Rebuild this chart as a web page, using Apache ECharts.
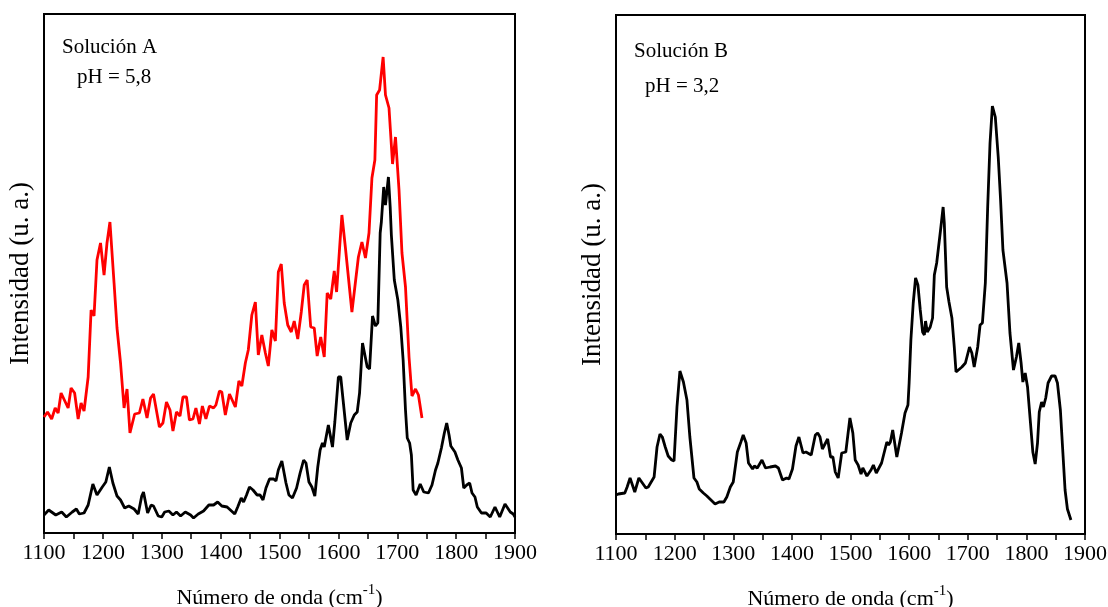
<!DOCTYPE html>
<html>
<head>
<meta charset="utf-8">
<title>Espectros Solución A / B</title>
<script src="https://cdn.jsdelivr.net/npm/echarts@6/dist/echarts.min.js"></script>
<style>
    html, body { margin: 0; padding: 0; background: #fff; }
    #chart { width: 1108px; height: 607px; }
</style>
</head>
<body>
<div id="chart"></div>
<script>
    // Solución A, pH 5,8 - curva roja
    var redWave = [1100,1106,1113,1119,1124,1129,1141,1146,1152,1158,1163,1168,1175,1180,1185,1190,1196,1202,1207,1212,1219,1224,1230,1236,1241,1246,1254,1262,1268,1275,1281,1286,1296,1302,1308,1314,1319,1325,1331,1336,1342,1347,1353,1358,1364,1369,1375,1381,1388,1392,1398,1402,1408,1415,1425,1431,1436,1442,1447,1453,1459,1464,1470,1476,1481,1487,1493,1498,1503,1508,1514,1520,1525,1531,1537,1542,1547,1553,1559,1564,1570,1576,1581,1587,1593,1597,1603,1606,1612,1623,1634,1640,1646,1652,1657,1662,1665,1670,1676,1680,1686,1692,1697,1703,1708,1714,1720,1725,1731,1736,1742];
    var redInt = [116,121,114,125,120,140,125,145,140,114,130,122,156,223,217,273,290,258,290,311,250,205,170,125,144,100,119,120,134,115,135,139,106,110,131,123,102,121,117,136,136,113,114,125,109,127,114,127,125,128,142,141,118,139,126,152,147,170,183,218,231,178,198,180,167,203,192,261,269,230,208,201,212,194,221,248,253,206,205,177,196,176,240,234,262,241,293,318,285,221,276,291,275,300,355,373,438,443,476,438,425,369,396,343,280,246,176,137,144,138,115];

    // Solución A - curva negra
    var blackWave = [1100,1108,1120,1130,1138,1148,1155,1160,1168,1175,1183,1186,1190,1199,1205,1211,1217,1224,1230,1237,1244,1253,1260,1266,1269,1276,1282,1286,1294,1300,1305,1312,1319,1325,1332,1340,1349,1354,1362,1371,1380,1388,1395,1402,1411,1424,1429,1435,1439,1444,1449,1455,1462,1467,1472,1477,1483,1490,1494,1498,1504,1511,1516,1522,1529,1535,1541,1545,1550,1555,1560,1565,1569,1573,1576,1583,1586,1590,1594,1600,1604,1608,1615,1621,1627,1632,1636,1641,1644,1649,1653,1658,1663,1667,1671,1673,1677,1680,1685,1688,1690,1695,1701,1706,1710,1714,1717,1721,1724,1727,1732,1739,1745,1753,1759,1765,1769,1775,1780,1784,1788,1791,1798,1803,1809,1813,1818,1823,1827,1832,1836,1843,1851,1858,1866,1874,1883,1892,1897,1900];
    var blackInt = [18,23,18,21,16,21,24,19,20,28,49,48,38,46,51,66,50,37,33,25,27,24,19,37,41,20,28,27,17,16,21,22,18,21,17,21,18,15,19,22,28,28,31,27,26,19,26,35,31,38,46,43,38,38,33,45,54,54,52,63,72,50,38,35,45,60,73,70,51,46,37,66,83,90,86,108,106,86,111,156,156,133,93,110,118,121,140,190,188,166,164,217,207,210,300,311,346,328,356,326,298,253,233,206,173,123,95,90,78,43,38,49,41,40,48,63,70,85,100,110,98,87,81,73,65,45,48,50,40,36,26,20,20,16,26,16,29,21,19,16];

    // Solución B, pH 3,2
    var waveB = [1100,1104,1115,1119,1124,1127,1132,1139,1145,1151,1155,1158,1165,1170,1175,1179,1184,1189,1195,1199,1204,1209,1215,1221,1226,1233,1238,1242,1249,1255,1262,1269,1276,1284,1289,1295,1300,1307,1313,1317,1322,1326,1333,1336,1341,1349,1355,1363,1372,1377,1384,1391,1395,1401,1407,1412,1419,1424,1433,1440,1444,1448,1452,1455,1461,1466,1470,1474,1479,1485,1492,1499,1504,1508,1513,1518,1521,1528,1535,1539,1544,1553,1562,1565,1568,1572,1579,1582,1587,1593,1598,1600,1603,1607,1611,1615,1619,1623,1626,1628,1631,1636,1640,1643,1647,1650,1654,1658,1660,1664,1668,1673,1677,1680,1684,1690,1696,1703,1707,1711,1717,1721,1725,1730,1734,1738,1742,1747,1752,1756,1760,1767,1772,1778,1783,1787,1791,1794,1798,1802,1807,1811,1815,1819,1822,1826,1829,1833,1837,1843,1849,1853,1858,1862,1866,1870,1876];
    var intB = [39,40,41,47,56,55,42,56,51,46,47,45,57,87,100,97,87,78,74,73,127,163,152,134,97,56,52,45,41,38,34,30,32,32,37,47,52,82,92,99,91,71,65,68,66,74,66,67,68,66,54,56,55,65,88,97,81,82,79,99,101,97,85,84,95,77,77,62,56,81,82,116,101,74,69,60,66,58,64,69,61,71,92,89,92,104,77,76,101,121,129,151,194,231,256,249,224,202,199,213,202,207,216,259,271,273,306,327,311,247,232,216,187,162,164,167,171,187,181,167,187,209,211,251,327,391,428,417,377,334,284,251,201,164,177,191,171,152,161,147,111,82,70,91,122,132,127,136,151,158,158,151,124,84,44,25,14];

    function pairs(xs, ys) {
        var out = [];
        for (var i = 0; i < xs.length; i++) out.push([xs[i], ys[i]]);
        return out;
    }

    var serif = 'Liberation Serif';

    function xAxisFor(idx) {
        return {
            type: 'value',
            gridIndex: idx,
            min: 1100,
            max: 1900,
            interval: 50,
            name: 'Número de onda (cm{sup|-1})',
            nameLocation: 'middle',
            nameGap: 50,
            nameTextStyle: {
                fontFamily: serif,
                fontSize: 22,
                color: '#000',
                rich: {
                    sup: { fontFamily: serif, fontSize: 15, color: '#000', verticalAlign: 'top', padding: [0, 0, 16, 0] }
                }
            },
            axisLine: { lineStyle: { color: '#000', width: 2 } },
            axisTick: { inside: false, length: 6, lineStyle: { color: '#000', width: 1.5 } },
            axisLabel: {
                fontFamily: serif,
                fontSize: 22,
                color: '#000',
                margin: 9,
                formatter: function (v) { return v % 100 === 0 ? v : ''; }
            },
            splitLine: { show: false }
        };
    }

    function yAxisFor(idx) {
        return {
            type: 'value',
            gridIndex: idx,
            min: 0,
            max: 519,
            name: 'Intensidad (u. a.)',
            nameLocation: 'middle',
            nameGap: 10,
            nameTextStyle: { fontFamily: serif, fontSize: 27, color: '#000' },
            axisLine: { show: true, lineStyle: { color: '#000', width: 2 } },
            axisTick: { show: false },
            axisLabel: { show: false },
            splitLine: { show: false }
        };
    }

    var myChart = echarts.init(document.getElementById('chart'));
    var option = {
        animation: false,
        backgroundColor: '#fff',
        grid: [
            { left: 44, top: 14, right: 593, bottom: 74, outerBoundsMode: 'none', show: true, borderColor: '#000', borderWidth: 2 },
            { left: 616, top: 15, right: 23, bottom: 73, outerBoundsMode: 'none', show: true, borderColor: '#000', borderWidth: 2 }
        ],
        xAxis: [xAxisFor(0), xAxisFor(1)],
        yAxis: [yAxisFor(0), yAxisFor(1)],
        graphic: [
            { type: 'text', left: 62, top: 37, style: { text: 'Solución A', font: '21px "Liberation Serif"', fill: '#000' } },
            { type: 'text', left: 77, top: 67, style: { text: 'pH = 5,8', font: '21px "Liberation Serif"', fill: '#000' } },
            { type: 'text', left: 634, top: 41, style: { text: 'Solución B', font: '21px "Liberation Serif"', fill: '#000' } },
            { type: 'text', left: 645, top: 76, style: { text: 'pH = 3,2', font: '21px "Liberation Serif"', fill: '#000' } }
        ],
        series: [
            {
                name: 'A negra',
                type: 'line',
                xAxisIndex: 0,
                yAxisIndex: 0,
                showSymbol: false,
                lineStyle: { color: '#000', width: 2.8 },
                data: pairs(blackWave, blackInt)
            },
            {
                name: 'A roja',
                type: 'line',
                xAxisIndex: 0,
                yAxisIndex: 0,
                showSymbol: false,
                lineStyle: { color: '#ff0000', width: 2.8 },
                data: pairs(redWave, redInt)
            },
            {
                name: 'B',
                type: 'line',
                xAxisIndex: 1,
                yAxisIndex: 1,
                showSymbol: false,
                lineStyle: { color: '#000', width: 2.8 },
                data: pairs(waveB, intB)
            }
        ]
    };
    myChart.setOption(option);
</script>
</body>
</html>
